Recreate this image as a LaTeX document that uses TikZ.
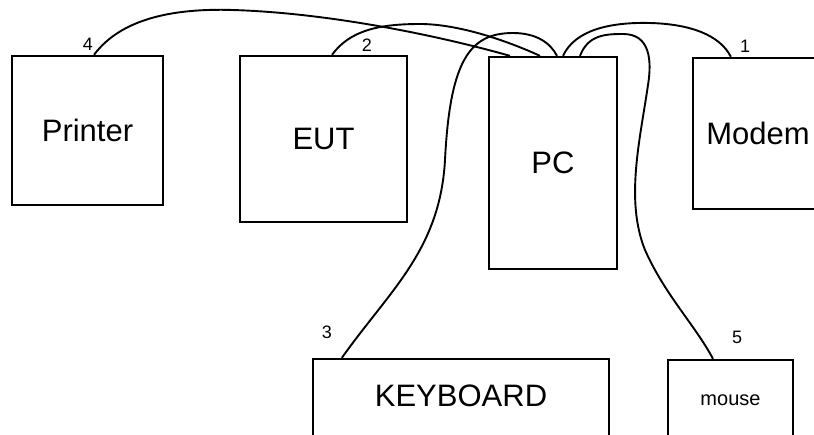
\documentclass[tikz,border=0pt]{standalone}
\usepackage{fontspec}
\setmainfont{Liberation Sans}
\usepackage{tikz}
\usetikzlibrary{positioning, calc}

\begin{document}
\begin{tikzpicture}[x=1pt, y=-1pt,
      unit/.style={rectangle, draw=black, line width=2.3pt, inner sep=0pt,
                   font=\fontsize{31}{31}\selectfont},
      cable/.style={draw=black, line width=1.9pt},
      portnum/.style={font=\fontsize{18}{18}\selectfont, inner sep=0pt}
    ]
    \clip (0,0) rectangle (814,434);

    % Devices
    \node[unit, minimum width=151pt, minimum height=149pt] (printer) at (87.5,130.5) {Printer};
    \node[unit, minimum width=167pt, minimum height=166pt] (eut)     at (323.5,139) {EUT};
    \node[unit, minimum width=128pt, minimum height=212pt] (pc)      at (553,163) {PC};
    \node[unit, minimum width=130pt, minimum height=151pt] (modem)   at (758,133.5) {Modem};
    \node[unit, minimum width=296pt, minimum height=81pt,
          text depth=8pt]                                  (kbd)     at (461,399.5) {KEYBOARD};
    \node[unit, minimum width=125pt, minimum height=80pt,
          font=\fontsize{20}{20}\selectfont]               (mouse)   at (730.5,400) {mouse};

    % Port numbers
    \node[portnum] (p1) at (745,46)  {1};
    \node[portnum] (p2) at (367,45)  {2};
    \node[portnum] (p3) at (327,332) {3};
    \node[portnum] (p4) at (88,44)   {4};
    \node[portnum] (p5) at (737,337) {5};

    % Cables
    \draw[cable] ([xshift=6.5pt]printer.north)
        .. controls (120,20) and (170,8) .. (233,10)
        .. controls (330,13) and (440,36) .. ([xshift=-43pt]pc.north);
    \draw[cable] ([xshift=8.5pt]eut.north)
        .. controls (350,30) and (380,24) .. (420,24)
        .. controls (460,24) and (510,42) .. ([xshift=-13pt]pc.north);
    \draw[cable] ([xshift=30pt]kbd.north west)
        .. controls (390,290) and (440,250) .. (445,160)
        .. controls (450,60) and (470,33) .. (513,33)
        .. controls (535,33) and (550,42) .. ([xshift=4pt]pc.north);
    \draw[cable] ([xshift=10pt]pc.north)
        .. controls (575,30) and (610,22) .. (650,23)
        .. controls (690,24) and (720,35) .. ([xshift=39pt]modem.north west);
    \draw[cable] ([xshift=27pt]pc.north)
        .. controls (588,35) and (605,34) .. (623,34)
        .. controls (650,34) and (652,60) .. (648,85)
        .. controls (640,140) and (625,200) .. (645,250)
        .. controls (665,295) and (695,325) .. ([xshift=-17.5pt]mouse.north);
\end{tikzpicture}
\end{document}
